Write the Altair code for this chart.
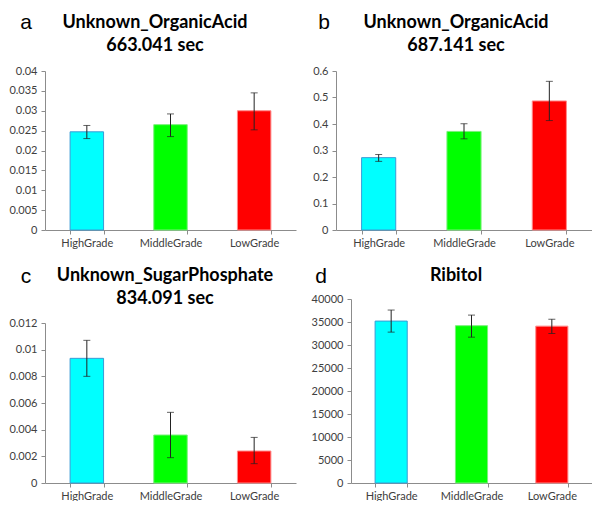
import altair as alt
import pandas as pd

categories = ["HighGrade", "MiddleGrade", "LowGrade"]
fill_colors = ["#00FFFF", "#00FF00", "#FF0000"]
stroke_colors = ["#3A9BD5", "#7AF07A", "#FF8A8A"]

# Panel a
a_title = ["Unknown_OrganicAcid", "663.041 sec"]
a_mean = [0.0247, 0.0265, 0.0300]
a_low = [0.0230, 0.0235, 0.0252]
a_high = [0.0263, 0.0292, 0.0345]
a_ticks = [0, 0.005, 0.01, 0.015, 0.02, 0.025, 0.03, 0.035, 0.04]

# Panel b
b_title = ["Unknown_OrganicAcid", "687.141 sec"]
b_mean = [0.273, 0.372, 0.487]
b_low = [0.259, 0.344, 0.413]
b_high = [0.285, 0.401, 0.561]
b_ticks = [0, 0.1, 0.2, 0.3, 0.4, 0.5, 0.6]

# Panel c
c_title = ["Unknown_SugarPhosphate", "834.091 sec"]
c_mean = [0.00935, 0.0036, 0.0024]
c_low = [0.0080, 0.0019, 0.00145]
c_high = [0.0107, 0.0053, 0.00342]
c_ticks = [0, 0.002, 0.004, 0.006, 0.008, 0.01, 0.012]

# Panel d
d_title = ["Ribitol"]
d_mean = [35200, 34200, 34100]
d_low = [32800, 31700, 32500]
d_high = [37600, 36500, 35600]
d_ticks = [0, 5000, 10000, 15000, 20000, 25000, 30000, 35000, 40000]


def text_layer(s, x, y, size, weight, font):
    return alt.Chart(pd.DataFrame({"t": [s]})).mark_text(
        font=font, fontSize=size, fontWeight=weight, align="center",
        baseline="middle", color="black",
    ).encode(text="t:N", x=alt.value(x), y=alt.value(y))


def panel(letter, title, mean, low, high, ticks, fmt, w, h, top, extent,
          lx, ly, tx, ty):
    df = pd.DataFrame({
        "cat": categories, "mean": mean, "low": low, "high": high,
        "fill": fill_colors, "edge": stroke_colors,
    })
    xscale = alt.Scale(domain=categories, paddingInner=0.6, paddingOuter=0.3)
    xaxis = alt.Axis(title=None, labelAngle=0, tickBand="extent",
                     tickSize=4, labelPadding=3)
    if top:
        yscale = alt.Scale(domain=[ticks[0], ticks[-1]], nice=False,
                           range=[h, top])
    else:
        yscale = alt.Scale(domain=[ticks[0], ticks[-1]], nice=False)
    yaxis = alt.Axis(title=None, values=ticks, format=fmt, grid=False,
                     tickSize=4, labelPadding=4, labelOverlap=False,
                     minExtent=extent, maxExtent=extent)
    xs = alt.X("cat:N", sort=categories, scale=xscale, axis=xaxis)
    base = alt.Chart(df)
    bars = base.mark_bar(strokeWidth=1).encode(
        x=xs, y=alt.Y("mean:Q", scale=yscale, axis=yaxis),
        fill=alt.Fill("fill:N", scale=None),
        stroke=alt.Stroke("edge:N", scale=None),
    )
    err = base.mark_rule(color="#222222", strokeWidth=1).encode(
        x=xs, y=alt.Y("low:Q", scale=yscale, axis=yaxis), y2="high:Q")
    cap_lo = base.mark_tick(color="#222222", thickness=1, size=7).encode(
        x=xs, y=alt.Y("low:Q", scale=yscale, axis=yaxis))
    cap_hi = base.mark_tick(color="#222222", thickness=1, size=7).encode(
        x=xs, y=alt.Y("high:Q", scale=yscale, axis=yaxis))
    layers = [bars, err, cap_lo, cap_hi,
              text_layer(letter, lx, ly, 21, "normal", "Liberation Sans")]
    for i, line in enumerate(title):
        layers.append(text_layer(line, tx, ty + 23 * i, 18, "bold", "Lato"))
    return alt.layer(*layers).properties(width=w, height=h)


pa = panel("a", a_title, a_mean, a_low, a_high, a_ticks, ".3~f",
           251, 159, 0, 33, -19, -48, 110, -48)
pb = panel("b", b_title, b_mean, b_low, b_high, b_ticks, ".1~f",
           256, 159, 0, 24, -12, -48, 120, -48)
pc = panel("c", c_title, c_mean, c_low, c_high, c_ticks, ".3~f",
           251, 184, 24, 33, -19, -22, 120, -23)
pd_ = panel("d", d_title, d_mean, d_low, d_high, d_ticks, ".0f",
            241, 184, 0, 40, -30, -22, 105, -23)

row1 = alt.hconcat(pa, pb, spacing=16)
row2 = alt.hconcat(pc, pd_, spacing=15)

chart = alt.vconcat(row1, row2, spacing=18).properties(
    padding={"top": 4, "left": 0, "right": 0, "bottom": 0},
    background="white",
).configure_view(stroke=None).configure_axis(
    domainColor="#8C8C8C", tickColor="#8C8C8C", labelColor="#404040",
    labelFont="Lato", labelFontSize=11,
)

chart.save("out.html", embed_options={"renderer": "svg", "actions": False})
